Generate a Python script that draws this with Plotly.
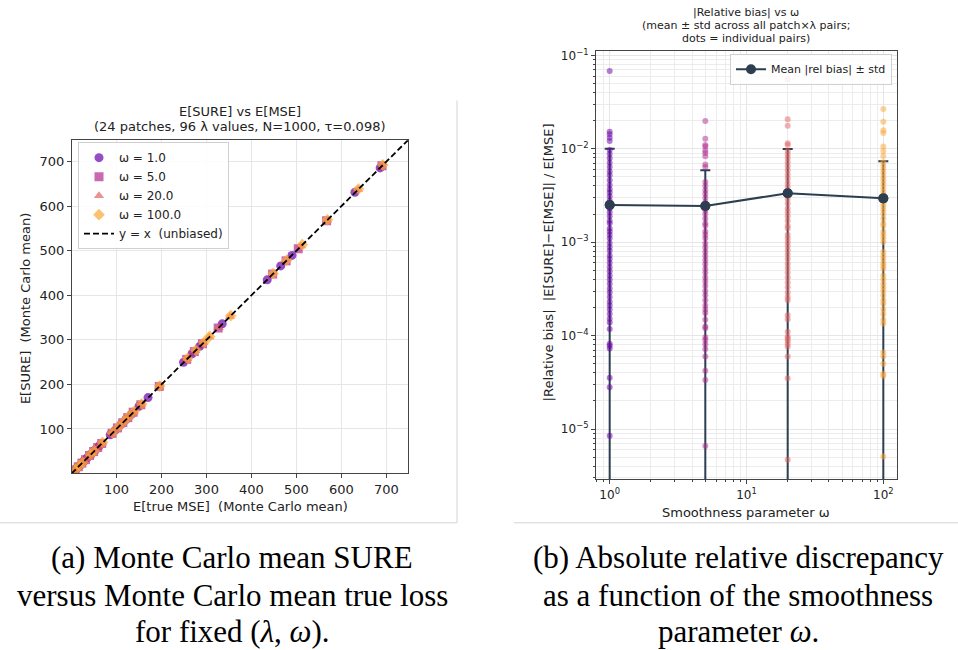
import plotly.graph_objects as go

# ---------------- Panel (a): E[SURE] vs E[MSE] ----------------
omega_labels = ["ω = 1.0", "ω = 5.0", "ω = 20.0", "ω = 100.0"]

mse_w1 = [5, 12, 19, 27, 35, 44, 53, 62, 86, 97, 110, 121, 133, 150, 170,
          249, 268, 285, 335, 435, 465, 490, 630, 686]
sure_w1 = [5.3, 12.4, 18.8, 27.5, 35.6, 43.9, 53.5, 62.3, 86.8, 97.4, 110.6, 121.3,
           132.7, 150.9, 170.4, 249.8, 268.7, 285.4, 335.9, 434.6, 465.8, 489.4, 631.0, 685.7]

mse_w5 = [8, 15, 23, 31, 40, 49, 58, 67, 90, 102, 114, 125, 137, 154, 195,
          256, 273, 291, 326, 447, 477, 504, 567, 690]
sure_w5 = [8.4, 15.3, 23.5, 31.2, 40.6, 49.3, 58.2, 67.5, 90.3, 102.4, 114.2, 125.5,
           137.6, 154.3, 195.4, 256.2, 273.6, 291.3, 326.5, 447.6, 477.3, 504.5, 567.4, 690.6]

mse_w20 = [8, 16, 24, 32, 41, 50, 59, 68, 91, 103, 115, 126, 138, 155, 195,
           257, 275, 293, 306, 327, 352, 510, 568, 637]
sure_w20 = [8.2, 16.5, 24.3, 32.4, 41.5, 50.2, 59.6, 68.3, 91.5, 103.2, 115.5, 126.4,
            138.3, 155.6, 195.2, 257.5, 275.4, 293.6, 306.4, 327.3, 352.6, 510.4, 568.5, 637.5]

mse_w100 = [9, 17, 25, 42, 51, 69, 91, 104, 116, 127, 139, 156, 196, 258,
            276, 294, 307, 354, 448, 478, 513, 569, 638, 692]
sure_w100 = [9.3, 17.4, 25.2, 42.6, 51.3, 69.4, 91.2, 104.5, 116.3, 127.6, 139.4, 156.2,
             196.3, 258.4, 276.5, 294.2, 307.6, 354.3, 448.5, 478.6, 513.4, 569.3, 638.4, 692.5]

diag_xy = [0, 760]

# ---------------- Panel (b): |relative bias| vs omega ----------------
omega_vals = [1, 5, 20, 100]

bias_w1 = [0.068, 0.0152, 0.0143, 0.0131, 0.0121,
           0.0097, 0.0088, 0.0079, 0.0071, 0.0064, 0.0057, 0.0052, 0.0046, 0.0041, 0.0037,
           0.0034, 0.0031, 0.0028, 0.0026, 0.0023, 0.0021, 0.0019, 0.0017, 0.0016, 0.0014,
           0.0013, 0.0012, 0.0011, 0.00098, 0.00089, 0.00081, 0.00072, 0.00066, 0.00060,
           0.00054, 0.00049, 0.00044, 0.00040, 0.00036, 0.00032, 0.00029, 0.00026, 0.00023,
           0.00021, 0.00019, 0.00017, 0.000152, 0.000138, 0.000118, 0.000082, 0.000078,
           0.000073, 0.0000355, 0.000028, 0.0000085]

bias_w5 = [0.0199, 0.0128, 0.0110, 0.0106, 0.0096, 0.0090, 0.0083, 0.0068, 0.0064,
           0.0044, 0.0040, 0.0036, 0.0033, 0.0030, 0.0027, 0.0025, 0.0022, 0.0020, 0.0018,
           0.0016, 0.0015, 0.0013, 0.0012, 0.0011, 0.00097, 0.00088, 0.00079, 0.00071,
           0.00064, 0.00058, 0.00052, 0.00047, 0.00042, 0.00038, 0.00034, 0.00030, 0.00027,
           0.00024, 0.00021, 0.00019, 0.000175, 0.000148, 0.000125, 0.000120, 0.000096,
           0.000090, 0.000081, 0.000072, 0.000060, 0.000042, 0.0000335, 0.0000066]

bias_w20 = [0.0556, 0.0207, 0.0176, 0.0115, 0.0110,
            0.0095, 0.0087, 0.0079, 0.0072, 0.0065, 0.0059, 0.0053, 0.0048, 0.0043, 0.0039,
            0.0035, 0.0032, 0.0029, 0.0026, 0.0023, 0.0021, 0.0019, 0.0017, 0.0015, 0.0014,
            0.0012, 0.0011, 0.00100, 0.00091, 0.00082, 0.00074, 0.00066, 0.00059, 0.00053,
            0.00047, 0.00042, 0.00037, 0.00033, 0.00029, 0.00026, 0.00024, 0.000165,
            0.000150, 0.000110, 0.000098, 0.000093, 0.000088, 0.000082, 0.000076, 0.000060,
            0.000035, 0.0000047]

bias_w100 = [0.0267, 0.0195, 0.0158, 0.0148, 0.0106, 0.0095, 0.0084,
             0.0072, 0.0066, 0.0060, 0.0055, 0.0050, 0.0046, 0.0042, 0.0038, 0.0035, 0.0032,
             0.0029, 0.0026, 0.0024, 0.0022, 0.0020, 0.0018, 0.0016, 0.0015, 0.0013, 0.0012,
             0.0011, 0.0010, 0.00079, 0.00072, 0.00066, 0.00060, 0.00056, 0.00052, 0.00044,
             0.00040, 0.00036, 0.00033, 0.00030, 0.00027, 0.00024, 0.00022, 0.00019, 0.00017,
             0.000148, 0.000135, 0.000066, 0.000060, 0.000050, 0.000039, 0.000037, 0.0000051]

mean_bias = [0.00250, 0.00244, 0.00335, 0.00295]
std_bias = [0.0075, 0.00345, 0.0066, 0.0044]

x_tick_text = ["10<sup>0</sup>", "10<sup>1</sup>", "10<sup>2</sup>"]
y_tick_text = ["10<sup>−5</sup>", "10<sup>−4</sup>", "10<sup>−3</sup>", "10<sup>−2</sup>", "10<sup>−1</sup>"]

# ---------------- styling ----------------
colors = ["#6a00a8", "#b12a90", "#e16462", "#fca636"]
symbols = ["circle", "square", "triangle-up", "diamond"]
navy = "#2c3e50"
FONT = "DejaVu Sans"
W, H = 958, 650

def px_x(p):
    return p / W

def px_y(p):
    return 1 - p / H

fig = go.Figure()

mse_sets = [mse_w1, mse_w5, mse_w20, mse_w100]
sure_sets = [sure_w1, sure_w5, sure_w20, sure_w100]
for lab, xs, ys, col, sym in zip(omega_labels, mse_sets, sure_sets, colors, symbols):
    fig.add_trace(go.Scatter(
        x=xs, y=ys, mode="markers", name=lab, xaxis="x", yaxis="y",
        marker=dict(color=col, symbol=sym, size=9, opacity=0.7, line=dict(width=0)),
        legend="legend"))
fig.add_trace(go.Scatter(
    x=diag_xy, y=diag_xy, mode="lines", name="y = x  (unbiased)", xaxis="x", yaxis="y",
    line=dict(color="black", width=1.8, dash="6px,3px"), legend="legend"))

# panel (b)
fig.add_trace(go.Scatter(
    x=omega_vals, y=mean_bias, mode="lines+markers", name="Mean |rel bias| ± std",
    xaxis="x2", yaxis="y2",
    line=dict(color=navy, width=2), marker=dict(color=navy, size=10),
    error_y=dict(type="data", array=std_bias, visible=True, color=navy, thickness=2, width=5),
    legend="legend2"))
bias_sets = [bias_w1, bias_w5, bias_w20, bias_w100]
for w, vals, col in zip(omega_vals, bias_sets, colors):
    fig.add_trace(go.Scatter(
        x=[w] * len(vals), y=vals, mode="markers", xaxis="x2", yaxis="y2",
        marker=dict(color=col, size=6, opacity=0.5, line=dict(width=0)),
        showlegend=False, hoverinfo="y"))
fig.add_trace(go.Scatter(
    x=omega_vals, y=mean_bias, mode="markers", xaxis="x2", yaxis="y2",
    marker=dict(color=navy, size=10), showlegend=False))

axis_common = dict(showline=True, mirror=True, linecolor="#444444", linewidth=1.2,
                   ticks="outside", ticklen=4, tickcolor="#444444", zeroline=False,
                   gridcolor="#e6e6e6", gridwidth=1)

minor_vals = [m * 10 ** e for e in range(-7, 3) for m in range(2, 10)]

fig.update_layout(
    width=W, height=H, margin=dict(l=0, r=0, t=0, b=0),
    paper_bgcolor="white", plot_bgcolor="white",
    font=dict(family=FONT, color="#222222", size=12),
    showlegend=True,
    xaxis=dict(domain=[px_x(72), px_x(408)], range=[1, 748], dtick=100, tick0=0,
               tickfont=dict(size=13), anchor="y", **axis_common),
    yaxis=dict(domain=[px_y(472), px_y(137)], range=[1, 748], dtick=100, tick0=0,
               tickfont=dict(size=13), anchor="x", **axis_common),
    xaxis2=dict(domain=[px_x(596), px_x(897)], type="log", range=[-0.1, 2.1],
                tickmode="array", tickvals=[1, 10, 100], ticktext=x_tick_text,
                tickfont=dict(size=12), anchor="y2",
                minor=dict(tickmode="array", tickvals=minor_vals, ticks="outside", ticklen=2,
                           tickcolor="#444444", showgrid=True, gridcolor="#ececec"),
                **axis_common),
    yaxis2=dict(domain=[px_y(478), px_y(47)], type="log", range=[-5.535, -0.95],
                tickmode="array", tickvals=[1e-5, 1e-4, 1e-3, 1e-2, 1e-1], ticktext=y_tick_text,
                tickfont=dict(size=12), anchor="x2",
                minor=dict(tickmode="array", tickvals=minor_vals, ticks="outside", ticklen=2,
                           tickcolor="#444444", showgrid=True, gridcolor="#ececec"),
                **axis_common),
    legend=dict(x=px_x(78), y=px_y(139), xanchor="left", yanchor="top",
                bgcolor="rgba(255,255,255,0.85)", bordercolor="#d0d0d0", borderwidth=1,
                font=dict(size=12, family=FONT)),
    legend2=dict(x=px_x(892), y=px_y(50), xanchor="right", yanchor="top",
                 bgcolor="rgba(255,255,255,0.85)", bordercolor="#d0d0d0", borderwidth=1,
                 font=dict(size=11, family=FONT)),
)

ann = []
def text(x, y, s, size, family=FONT, angle=0, color="#222222"):
    ann.append(dict(x=px_x(x), y=px_y(y), xref="paper", yref="paper", text=s,
                    showarrow=False, xanchor="center", yanchor="middle", textangle=angle,
                    font=dict(size=size, family=family, color=color)))

# panel (a) titles / labels
text(240, 108, "E[SURE] vs E[MSE]", 13)
text(240, 123, "(24 patches, 96 λ values, N=1000, τ=0.098)", 13)
text(240, 506, "E[true MSE]  (Monte Carlo mean)", 13)
text(25, 307, "E[SURE]  (Monte Carlo mean)", 13, angle=-90)

# panel (b) titles / labels
text(746, 9, "|Relative bias| vs ω", 11)
text(746, 22, "(mean ± std across all patch×λ pairs;", 11)
text(746, 35, "dots = individual pairs)", 11)
text(746, 512, "Smoothness parameter ω", 13)
text(548, 260, "|Relative bias|  |E[SURE]−E[MSE]| / E[MSE]", 13, angle=-90)

# captions
SERIF = "Liberation Serif"
text(232, 557, "(a) Monte Carlo mean SURE", 31, SERIF, color="black")
text(232, 595, "versus Monte Carlo mean true loss", 31, SERIF, color="black")
text(232, 631, "for fixed (<i>λ</i>, <i>ω</i>).", 31, SERIF, color="black")
text(738, 557, "(b) Absolute relative discrepancy", 31, SERIF, color="black")
text(738, 595, "as a function of the smoothness", 31, SERIF, color="black")
text(738, 631, "parameter <i>ω</i>.", 31, SERIF, color="black")

fig.update_layout(annotations=ann)

border = dict(color="#d4d4d4", width=1)
fig.update_layout(shapes=[
    dict(type="line", xref="paper", yref="paper", x0=px_x(457), x1=px_x(457),
         y0=px_y(97), y1=px_y(522), line=border),
    dict(type="line", xref="paper", yref="paper", x0=0, x1=px_x(457),
         y0=px_y(522), y1=px_y(522), line=border),
    dict(type="line", xref="paper", yref="paper", x0=px_x(514), x1=1,
         y0=px_y(522), y1=px_y(522), line=border),
])

fig.write_html("out.html", config={"displayModeBar": False},
               post_script="document.body.style.margin='0';")
